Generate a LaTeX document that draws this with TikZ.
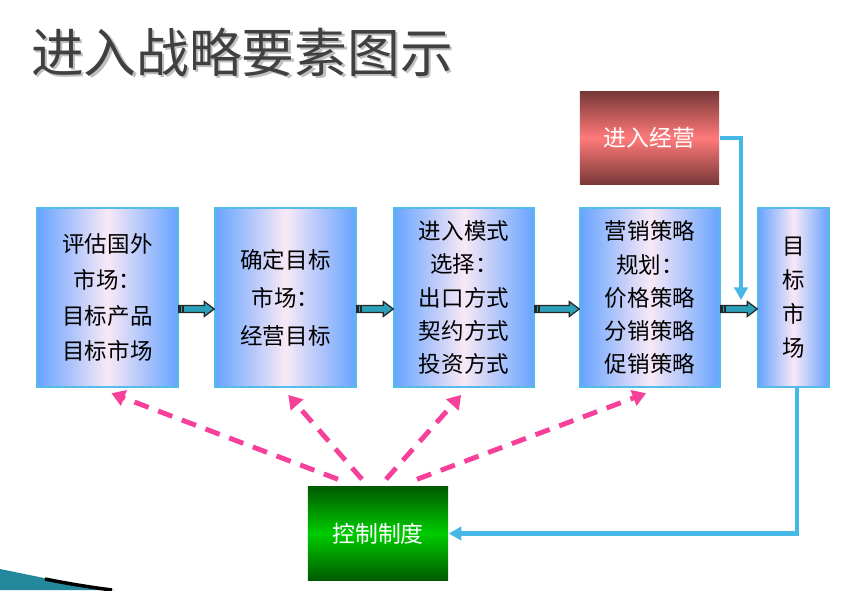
\documentclass[tikz,border=0pt]{standalone}
\usepackage{fontspec}
\newfontfamily\cjk{Noto Sans CJK SC}
\usetikzlibrary{calc,arrows.meta}

\definecolor{boxblue}{HTML}{66A3FF}
\definecolor{boxmid}{HTML}{F9E8F6}
\definecolor{boxline}{HTML}{55BBE8}
\definecolor{entrydark}{HTML}{7A3838}
\definecolor{entrymid}{HTML}{FF7A7A}
\definecolor{ctrldark}{HTML}{005A00}
\definecolor{ctrlmid}{HTML}{00CC00}
\definecolor{feedblue}{HTML}{45B8E6}
\definecolor{ctrlpink}{HTML}{F6409A}
\definecolor{arrowteal}{HTML}{2BA0B8}
\definecolor{titlegray}{HTML}{404040}

\tikzset{
    stagebox/.style={draw=boxline, line width=0.4pt, left color=boxblue, right color=boxblue,
        middle color=boxmid, minimum width=1.41cm, minimum height=1.79cm, inner sep=0pt,
        align=center, font=\cjk\fontsize{6.4}{9.4}\selectfont},
    flowarrow/.style={fill=arrowteal, draw=black!85, line width=0.35pt, line join=miter},
    feedline/.style={draw=feedblue, line width=1.15pt, -{Triangle[length=3.6pt,width=3.8pt]}},
    ctrlline/.style={draw=ctrlpink, line width=1.4pt, dash pattern=on 4.3pt off 2.9pt,
        -{Triangle[length=3.8pt,width=4.6pt]}, shorten >=1.2pt},
    titletext/.style={font=\cjk\fontsize{15}{18}\selectfont, inner sep=0pt}
}

% block arrow between two stages
\newcommand{\blockarrow}[2]{%
    \draw[flowarrow] ($(#1.east)+(0,8)$) -- ($(#2.west)+(-10,8)$) -- ($(#2.west)+(-10,4)$)
        -- ($(#2.west)+(0,11.5)$) -- ($(#2.west)+(-10,19)$) -- ($(#2.west)+(-10,15)$)
        -- ($(#1.east)+(0,15)$) -- cycle;
    \fill[black!85] ($(#1.east)+(0,8)$) rectangle ($(#1.east)+(2,15)$);
    \fill[black!85] ($(#1.east)+(3.5,8)$) rectangle ($(#1.east)+(5.5,15)$);
}

\begin{document}
\begin{tikzpicture}[x=0.01cm,y=-0.01cm]
    \useasboundingbox (0,0) rectangle (866,590);

    % title
    \node[titletext, text=black!25] (titleshadow) at (244.5,54.5) {进入战略要素图示};
    \node[titletext, text=titlegray] (title) at (242,52) {进入战略要素图示};

    % corner swoosh
    \fill[arrowteal!85!black] (0,569) .. controls (40,577) and (80,586) .. (115,590) -- (0,590) -- cycle;
    \draw[black, line width=1pt] (45,579) .. controls (65,583) and (88,587) .. (112,590);

    % stages
    \node[stagebox, font=\cjk\fontsize{6.4}{10.2}\selectfont] (assess) at (107.5,297.5)
        {评估国外\\市场：\\目标产品\\目标市场};
    \node[stagebox, font=\cjk\fontsize{6.4}{10.8}\selectfont] (target) at (285.5,297.5)
        {确定目标\\市场：\\经营目标};
    \node[stagebox, minimum width=1.40cm] (mode) at (464,297.5)
        {进入模式\\选择：\\出口方式\\契约方式\\投资方式};
    \node[stagebox, minimum width=1.40cm] (plan) at (650,297.5)
        {营销策略\\规划：\\价格策略\\分销策略\\促销策略};
    \node[stagebox, minimum width=0.71cm, font=\cjk\fontsize{6.4}{9.7}\selectfont] (market) at (793.5,297.5)
        {目\\标\\市\\场};

    \node[minimum width=1.39cm, minimum height=0.92cm, inner sep=0pt,
        top color=entrydark, bottom color=entrydark, middle color=entrymid,
        text=white, font=\cjk\fontsize{6.5}{8}\selectfont] (entry) at (649.5,138) {进入经营};
    \node[minimum width=1.40cm, minimum height=0.93cm, inner sep=0pt,
        top color=ctrldark, bottom color=ctrldark, middle color=ctrlmid,
        text=white, font=\cjk\fontsize{6.5}{8}\selectfont] (ctrl) at (378,533.5) {控制制度};

    % main flow
    \blockarrow{assess}{target}
    \blockarrow{target}{mode}
    \blockarrow{mode}{plan}
    \blockarrow{plan}{market}

    % entry operation and feedback
    \coordinate (entrytip) at (741,300);
    \draw[feedline] (entry.east) -| (entrytip);
    \draw[feedline] ($(market.south)+(3.5,0)$) |- (ctrl.east);

    % control lines
    \foreach \stage/\dx in {assess/-40, target/-16, mode/8, plan/39}
        \draw[ctrlline] ($(ctrl.north)+(\dx,-7)$) -- ($(\stage.south)+(0,4)$);
\end{tikzpicture}
\end{document}
